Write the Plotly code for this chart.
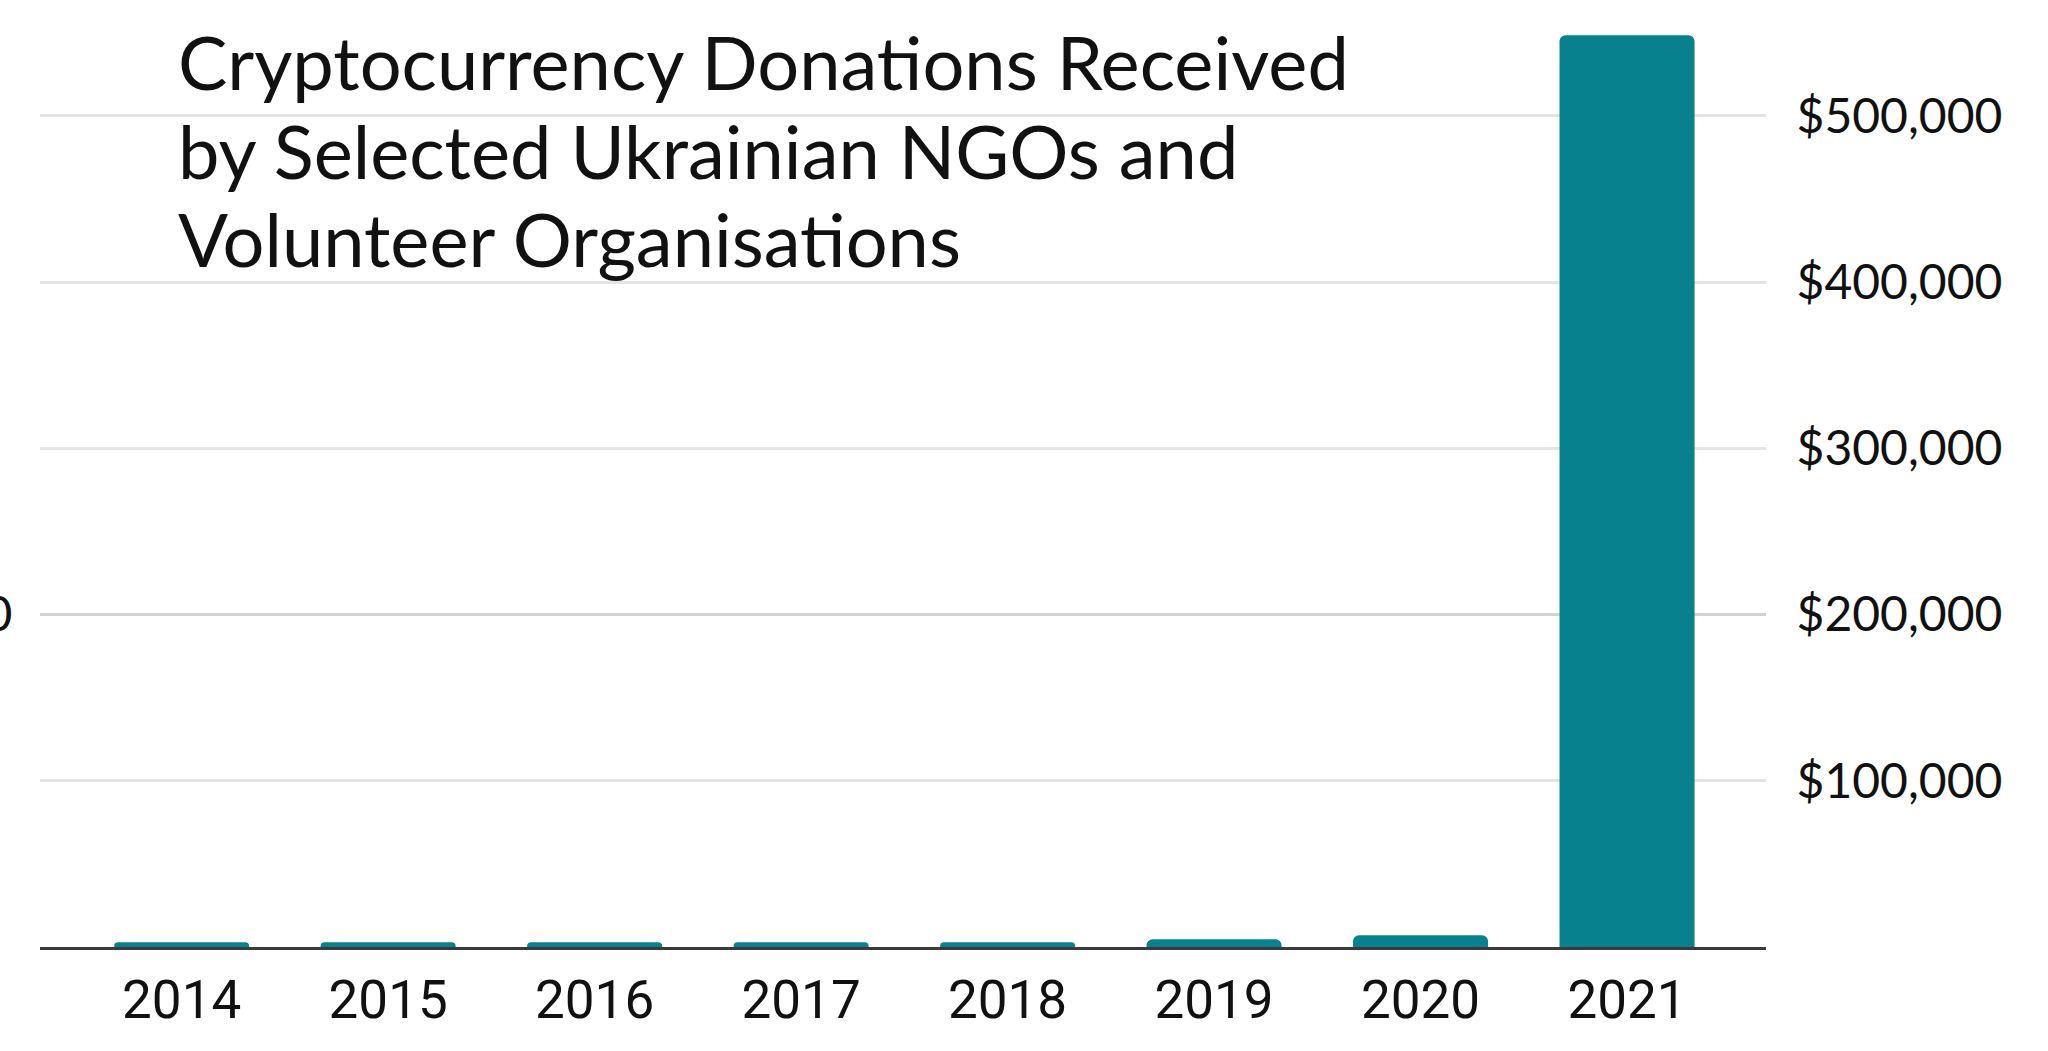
import plotly.graph_objects as go

years = ["2014", "2015", "2016", "2017", "2018", "2019", "2020", "2021"]
donations_usd = [2800, 2800, 2800, 2800, 2800, 4700, 7100, 548500]

right_tick_values = [100000, 200000, 300000, 400000, 500000]
right_tick_labels = ["$100,000", "$200,000", "$300,000", "$400,000", "$500,000"]
left_tick_values = [200000]
left_tick_labels = ["0"]

title_lines = ["Cryptocurrency Donations Received",
               "by Selected Ukrainian NGOs and",
               "Volunteer Organisations"]

W, H = 2048, 1051
ML, MR, MT, MB = 40, 282, 21, 104
Y_MAX = 557000
PLOT_H = H - MT - MB
PLOT_W = W - ML - MR

fig = go.Figure()
fig.add_trace(go.Bar(
    x=years, y=donations_usd,
    marker=dict(color="#07818D", line=dict(width=0)),
    yaxis="y",
    hoverinfo="skip",
))
# invisible trace to keep the overlaid left axis alive
fig.add_trace(go.Scatter(x=[years[0]], y=[None], yaxis="y2",
                         mode="markers", showlegend=False, hoverinfo="skip"))

title_annotations = []
for i, line in enumerate(title_lines):
    top_px = 15 + 88.5 * i
    title_annotations.append(dict(
        text=line,
        xref="paper", yref="paper",
        x=(176 - ML) / PLOT_W, y=(H - MB - top_px) / PLOT_H,
        xanchor="left", yanchor="top", align="left",
        showarrow=False,
        font=dict(family="Lato", size=74, color="#111111"),
    ))

fig.update_layout(
    width=W, height=H,
    margin=dict(l=ML, r=MR, t=MT, b=MB, pad=0),
    paper_bgcolor="white", plot_bgcolor="white",
    showlegend=False,
    bargap=0.346,
    barcornerradius=6,
    xaxis=dict(
        type="category",
        range=[-0.686, 7.673],
        showgrid=False,
        showline=True, linecolor="#3a3a3a", linewidth=3,
        ticks="outside", ticklen=4, tickcolor="rgba(0,0,0,0)",
        tickfont=dict(family="Roboto", size=53, color="#111111"),
        zeroline=False,
        automargin=False,
    ),
    yaxis=dict(
        side="right",
        range=[0, Y_MAX],
        tickvals=right_tick_values, ticktext=right_tick_labels,
        showgrid=True, gridcolor="#e4e4e4", gridwidth=2.5,
        zeroline=False, showline=False,
        ticks="outside", ticklen=20, tickcolor="rgba(0,0,0,0)",
        tickfont=dict(family="Lato", size=48, color="#111111"),
        automargin=False,
    ),
    yaxis2=dict(
        overlaying="y", side="left",
        range=[0, Y_MAX],
        tickvals=left_tick_values, ticktext=left_tick_labels,
        showgrid=True, gridcolor="#d2d2d2", gridwidth=2.5,
        zeroline=False, showline=False,
        ticks="outside", ticklen=17, tickcolor="rgba(0,0,0,0)",
        tickfont=dict(family="Lato", size=48, color="#111111"),
        automargin=False,
    ),
    annotations=title_annotations,
)

fig.write_html("out.html")
